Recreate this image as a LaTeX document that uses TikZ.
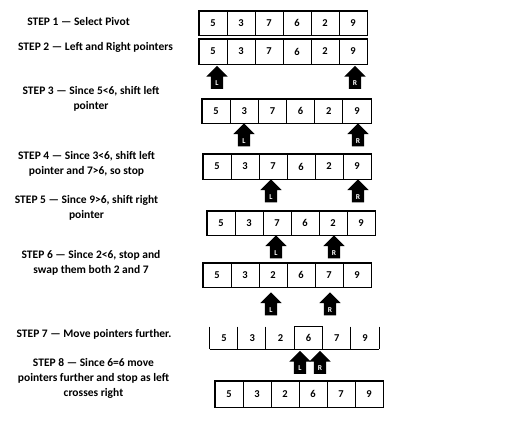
\documentclass[tikz,border=0pt]{standalone}
\usepackage{fontspec}
\setmainfont{Carlito}
\usetikzlibrary{shapes.arrows}
\tikzset{
  cell/.style={draw, line width=0.8pt, inner sep=0pt, font=\bfseries\fontsize{10.5}{12}\selectfont},
  outer/.style={line width=1.6pt},
  thinline/.style={line width=1pt},
  ptr/.style={single arrow, shape border rotate=90, fill=black, draw=none,
    minimum height=23pt, minimum width=21pt, single arrow head extend=4.5pt, inner sep=6pt},
  ptrtext/.style={text=white, font=\bfseries\fontsize{7.5}{7.5}\selectfont, inner sep=0pt},
  steptext/.style={align=center, font=\bfseries\fontsize{11.5}{15}\selectfont, inner sep=0pt},
}
% #1 name, #2 x left, #3 y top, #4 x right, #5 y bottom, #6 digits, #7 extra cell style
\newcommand{\cellrow}[7]{%
  \pgfmathsetmacro\cw{(#4-#2)/6}%
  \pgfmathsetmacro\ch{#5-#3}%
  \pgfmathsetmacro\cy{(#3+#5)/2}%
  \foreach \d [count=\n] in {#6} {
    \pgfmathsetmacro\cx{#2+\cw*(\n-0.5)}
    \node[cell, minimum width=\cw pt, minimum height=\ch pt, #7] (#1-\n) at (\cx,\cy) {\d};
  }%
}
\begin{document}
\begin{tikzpicture}[x=1pt, y=-1pt]
\useasboundingbox (0,0) rectangle (524,426);

% step texts
\node[steptext] (s1) at (78.5,22) {STEP 1 --- Select Pivot};
\node[steptext] (s2) at (95.5,47) {STEP 2 --- Left and Right pointers};
\node[steptext] (s3) at (91,99) {STEP 3 --- Since 5<6, shift left\\pointer};
\node[steptext] (s4) at (86.5,163.5) {STEP 4 --- Since 3<6, shift left\\pointer and 7>6, so stop};
\node[steptext] (s5) at (86.5,207.5) {STEP 5 --- Since 9>6, shift right\\pointer};
\node[steptext] (s6) at (91,262.5) {STEP 6 --- Since 2<6, stop and\\swap them both 2 and 7};
\node[steptext] (s7) at (94,334) {STEP 7 --- Move pointers further.};
\node[steptext] (s8) at (93.5,378.5) {STEP 8 --- Since 6=6 move\\pointers further and stop as left\\crosses right};

% rows of cells
\cellrow{r1}{199}{11}{367}{35}{5,3,7,6,2,9}{}
\draw[outer] (r1-1.north west) rectangle (r1-6.south east);
\cellrow{r2}{199}{39}{367}{64}{5,3,7,6,2,9}{}
\draw[outer] (r2-1.north west) rectangle (r2-6.south east);
\cellrow{r3}{202}{99}{371}{123}{5,3,7,6,2,9}{}
\draw[outer] (r3-1.north west) rectangle (r3-6.south east);
\cellrow{r4}{203}{154}{371}{179}{5,3,7,6,2,9}{}
\draw[outer] (r4-1.north west) rectangle (r4-6.south east);
\cellrow{r5}{207}{211}{375}{235}{5,3,7,6,2,9}{}
\draw[outer] (r5-1.north west) rectangle (r5-6.south east);
\cellrow{r6}{203}{263}{371}{287}{5,3,2,6,7,9}{}
\draw[outer] (r6-1.north west) rectangle (r6-6.south east);
\cellrow{r7}{210}{327}{379}{349}{5,3,2,6,7,9}{draw=none}
\foreach \n in {1,...,6} {
  \draw[thinline] (r7-\n.north west) -- (r7-\n.south west);
}
\draw[thinline] (r7-6.north east) -- (r7-6.south east);
\draw[outer] (r7-1.south west) -- (r7-6.south east);
\draw[thinline] (r7-4.north west) -- (r7-4.north east);
\cellrow{r8}{215}{381}{383}{407}{5,3,2,6,7,9}{}
\draw[outer] (r8-1.north west) rectangle (r8-6.south east);

% pointers
\foreach \row/\lx/\rx/\py in {2/217/355/80.5, 3/244/358/138, 4/271/358/194, 5/276/334/250, 6/271/330/307, 7/300/320/365.5} {
  \node[ptr] (pL\row) at (\lx,\py) {};
  \node[ptrtext] (tL\row) at ([yshift=-3pt]pL\row.center) {L};
  \node[ptr] (pR\row) at (\rx,\py) {};
  \node[ptrtext] (tR\row) at ([yshift=-3pt]pR\row.center) {R};
}
\end{tikzpicture}
\end{document}
